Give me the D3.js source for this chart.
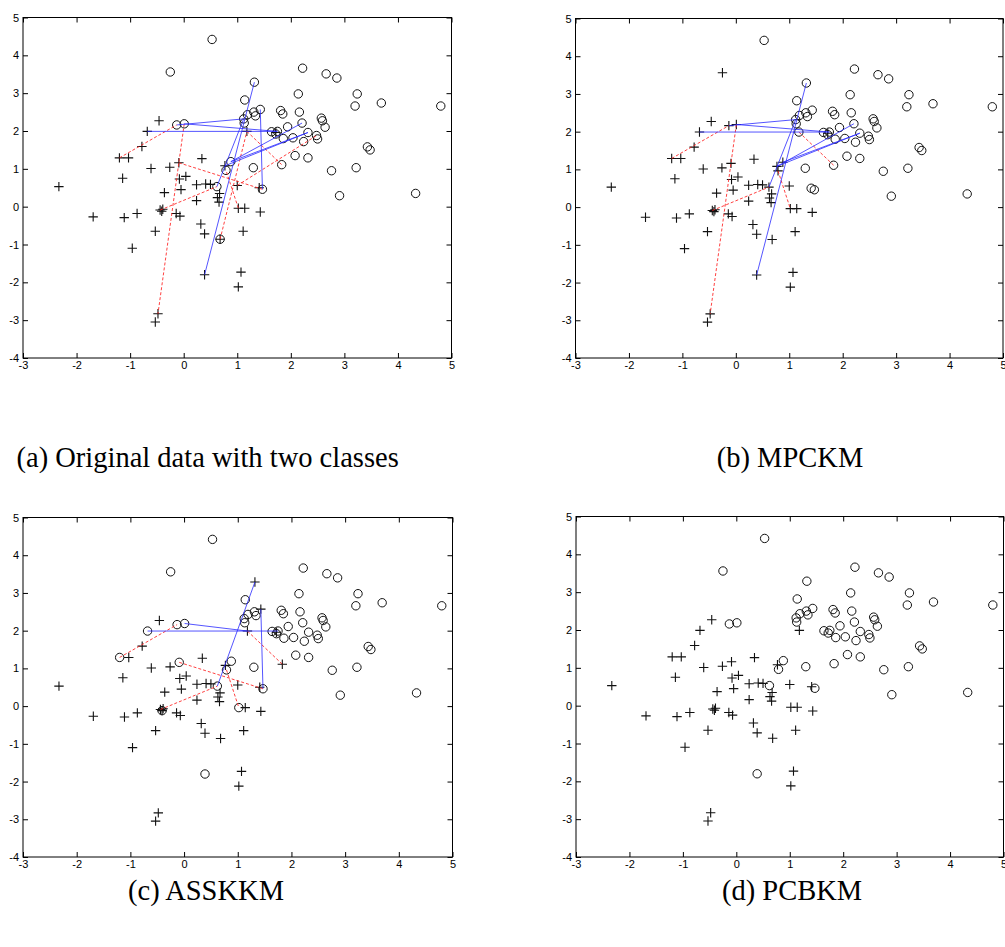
<!DOCTYPE html>
<html>
<head>
<meta charset="utf-8">
<script src="https://cdn.jsdelivr.net/npm/d3@7"></script>
<style>
  html, body { margin: 0; padding: 0; background: #fff; }
  svg { display: block; }
  .tick text { font-family: "Liberation Sans", Arial, sans-serif; font-size: 11px; fill: #000; }
  .caption { font-family: "Liberation Serif", "Times New Roman", serif; font-size: 28.5px; fill: #000; }
</style>
</head>
<body>
<svg id="chart" width="1005" height="947"></svg>
<script>
// ---------------- data ----------------
const xTicks = [-3, -2, -1, 0, 1, 2, 3, 4, 5];
const yTicks = [-4, -3, -2, -1, 0, 1, 2, 3, 4, 5];

// point coordinates (shared by all four panels)
const ptX = [0.53, -0.25, -0.13, 0.01, 1.32, 1.14, 1.19, 1.12, 1.13, 1.31, 1.34, 1.43, 1.81, 1.85, 2.14, 2.16,
  2.22, 2.21, 1.94, 1.64, 1.75, 1.72, 1.86, 2.04, 2.32, 2.24, 2.48, 2.50, 2.57, 2.59, 2.64, 2.66,
  2.86, 3.24, 3.20, 3.69, 4.80, 3.43, 3.48, 2.08, 2.32, 1.83, 1.30, 3.22, 2.76, 2.91, 4.33, 0.88,
  0.79, 0.62, 1.47, 0.39,
  -2.33, -1.69, -1.11, -0.87, -0.96, -0.53, -1.20, -1.03, -1.14, -0.78, -0.68, -0.46, -0.61, -0.26,
  -0.09, -0.08, 0.04, -0.05, -0.36, -0.44, -0.41, -0.39, -0.14, -0.07, 0.24, 0.41, 0.50, 0.34,
  0.24, 0.63, 0.67, 0.66, 0.32, 0.39, 0.68, 0.77, 1.00, 1.02, 1.14, 1.11, 1.41, 1.43, 1.18,
  1.07, 1.02, -0.48, -0.53, 1.72];
const ptY = [4.42, 3.56, 2.16, 2.19, 3.29, 2.82, 2.43, 2.32, 2.21, 2.50, 2.40, 2.57, 2.54, 2.45, 2.98, 2.50,
  3.66, 2.21, 2.11, 1.98, 1.99, 1.92, 1.80, 1.82, 1.96, 1.72, 1.88, 1.79, 2.34, 2.27, 2.10, 3.51,
  3.40, 2.98, 2.66, 2.74, 2.66, 1.58, 1.50, 1.35, 1.29, 1.11, 1.03, 1.03, 0.95, 0.29, 0.35, 1.19,
  0.96, 0.53, 0.46, -1.80,
  0.53, -0.27, -0.29, -0.18, -1.10, -0.65, 1.29, 1.29, 0.75, 1.59, 1.99, 2.27, 1.01, 1.04,
  1.16, 0.73, 0.80, 0.45, 0.37, -0.09, -0.12, -0.07, -0.18, -0.25, 0.58, 0.60, 0.59, 1.27,
  0.16, 0.24, 0.35, 0.12, -0.46, -0.72, -0.86, 1.08, 0.56, -0.04, -0.04, -0.65, 0.50, -0.14, 1.99,
  -1.73, -2.12, -2.83, -3.05, 1.96];

// labels in panel (d): 'o' circle, '+' plus, 'b' both, '' hidden
const labelsD = ptX.map((_, i) => i < 52 ? "o" : (i < 99 ? "+" : ""));
const changesA = {51: "+", 86: "b", 99: "+"};
const changesB = {1: "+", 2: "+", 3: "+", 47: "+", 48: "+", 49: "+", 51: "+", 92: "o", 94: "o", 99: "+"};
const changesC = {4: "+", 11: "+", 41: "+", 58: "o", 62: "o", 66: "o", 89: "o", 72: "b", 99: "+"};

// constraint links (pairs of point indices)
const blueA = [[4, 51], [7, 49], [2, 7], [3, 20], [62, 20], [11, 50], [47, 17], [47, 24], [87, 24]];
const redA = [[58, 2], [3, 97], [66, 50], [71, 49], [88, 26], [94, 41], [86, 94], [89, 48]];
const blueB = [[4, 51], [7, 49], [2, 7], [3, 20], [62, 20], [87, 17], [87, 24], [47, 24]];
const redB = [[58, 2], [3, 97], [71, 49], [94, 41], [48, 89]];
const blueC = [[4, 49], [3, 94], [62, 20], [11, 50]];
const redC = [[58, 2], [66, 50], [71, 49], [94, 41], [48, 89]];

const captions = ["(a) Original data with two classes", "(b) MPCKM", "(c) ASSKKM", "(d) PCBKM"];

// ---------------- layout ----------------
const panels = [
  {box: [23, 451.5, 17.5, 358], changes: changesA, blue: blueA, red: redA, cap: [16.5, 467, "start"]},
  {box: [575.5, 1003, 18.5, 358], changes: changesB, blue: blueB, red: redB, cap: [790, 467, "middle"]},
  {box: [23, 452.5, 517.5, 857], changes: changesC, blue: blueC, red: redC, cap: [206, 900, "middle"]},
  {box: [576, 1003.5, 516.5, 857], changes: {}, blue: [], red: [], cap: [792, 900, "middle"]}
];

const svg = d3.select("#chart");

panels.forEach((p, pi) => {
  const [l, r, t, b] = p.box;
  const x = d3.scaleLinear().domain([-3, 5]).range([l, r]);
  const y = d3.scaleLinear().domain([-4, 5]).range([b, t]);
  const g = svg.append("g");
  const fmt = d => String(d);

  // axes with inward ticks on all four sides
  g.append("g").attr("transform", `translate(0,${b})`)
    .call(d3.axisBottom(x).tickValues(xTicks).tickSizeInner(-5).tickSizeOuter(0).tickPadding(3).tickFormat(fmt));
  g.append("g").attr("transform", `translate(0,${t})`)
    .call(d3.axisTop(x).tickValues(xTicks).tickSizeInner(-5).tickSizeOuter(0).tickFormat(""));
  g.append("g").attr("transform", `translate(${l},0)`)
    .call(d3.axisLeft(y).tickValues(yTicks).tickSizeInner(-5).tickSizeOuter(0).tickPadding(4).tickFormat(fmt));
  g.append("g").attr("transform", `translate(${r},0)`)
    .call(d3.axisRight(y).tickValues(yTicks).tickSizeInner(-5).tickSizeOuter(0).tickFormat(""));
  g.selectAll(".domain").remove();
  g.selectAll(".tick line").attr("stroke", "#000");
  g.append("rect").attr("x", l).attr("y", t).attr("width", r - l).attr("height", b - t)
    .attr("fill", "none").attr("stroke", "#000").attr("stroke-width", 1);

  const labels = labelsD.map((d, i) => (i in p.changes) ? p.changes[i] : d);
  const idx = d3.range(ptX.length);

  // circles
  g.append("g").selectAll("circle")
    .data(idx.filter(i => labels[i] === "o" || labels[i] === "b"))
    .join("circle")
    .attr("cx", i => x(ptX[i])).attr("cy", i => y(ptY[i])).attr("r", 4.2)
    .attr("fill", "none").attr("stroke", "#111").attr("stroke-width", 1);

  // plus markers
  const s = 4.7;
  g.append("g").selectAll("path")
    .data(idx.filter(i => labels[i] === "+" || labels[i] === "b"))
    .join("path")
    .attr("d", i => {
      const cx = x(ptX[i]), cy = y(ptY[i]);
      return `M${cx - s},${cy}H${cx + s}M${cx},${cy - s}V${cy + s}`;
    })
    .attr("fill", "none").attr("stroke", "#111").attr("stroke-width", 1.1);

  // cannot-link (red dashed)
  g.append("g").selectAll("line")
    .data(p.red).join("line")
    .attr("x1", d => x(ptX[d[0]])).attr("y1", d => y(ptY[d[0]]))
    .attr("x2", d => x(ptX[d[1]])).attr("y2", d => y(ptY[d[1]]))
    .attr("stroke", "#ff2020").attr("stroke-opacity", 0.85).attr("stroke-width", 1)
    .attr("stroke-dasharray", "3,2");

  // must-link (blue solid)
  g.append("g").selectAll("line")
    .data(p.blue).join("line")
    .attr("x1", d => x(ptX[d[0]])).attr("y1", d => y(ptY[d[0]]))
    .attr("x2", d => x(ptX[d[1]])).attr("y2", d => y(ptY[d[1]]))
    .attr("stroke", "#2a2aff").attr("stroke-opacity", 0.8).attr("stroke-width", 1);

  svg.append("text").attr("class", "caption")
    .attr("x", p.cap[0]).attr("y", p.cap[1]).attr("text-anchor", p.cap[2])
    .text(captions[pi]);
});
</script>
</body>
</html>
